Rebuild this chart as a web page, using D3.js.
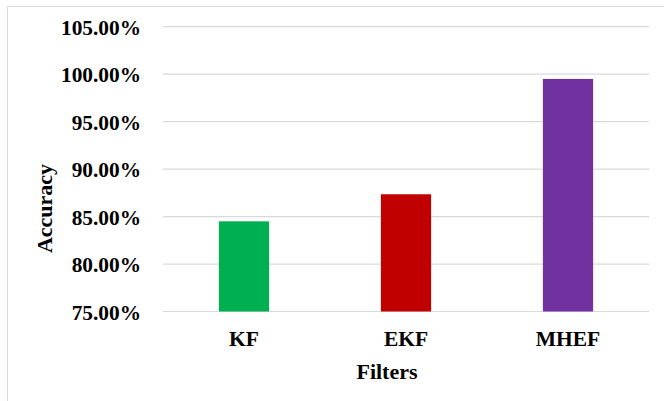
<!DOCTYPE html>
<html>
<head>
<meta charset="utf-8">
<script src="https://cdn.jsdelivr.net/npm/d3@7"></script>
<style>
  html, body { margin: 0; padding: 0; background: #fff; }
  svg { display: block; }
  svg text { font-family: 'Liberation Serif', 'Times New Roman', Times, 'DejaVu Serif', serif !important; font-weight: 700; fill: #000; }
</style>
</head>
<body>
<svg id="chart" width="664" height="401"></svg>
<script>
// Accuracy of each filter (percent)
const categories = ["KF", "EKF", "MHEF"];
const accuracy = [84.5, 87.35, 99.5];
const barColors = ["#00B050", "#C00000", "#7030A0"];
const yTicks = [75, 80, 85, 90, 95, 100, 105];

const serif = "'Liberation Serif', 'Times New Roman', Times, 'DejaVu Serif', serif";
const svg = d3.select("#chart");
const W = 664, H = 401;

// Chart frame (top and left edges)
svg.append("line").attr("x1", 7.5).attr("x2", W).attr("y1", 6.5).attr("y2", 6.5)
  .attr("stroke", "#d9d9d9").attr("stroke-width", 1);
svg.append("line").attr("x1", 7.5).attr("x2", 7.5).attr("y1", 6.5).attr("y2", H)
  .attr("stroke", "#d9d9d9").attr("stroke-width", 1);

const plot = { left: 163, right: 649, top: 26.7, bottom: 311.5 };

const x = d3.scaleBand().domain(categories).range([plot.left, plot.right]).paddingInner(0.69).paddingOuter(0.345);
const y = d3.scaleLinear().domain([75, 105]).range([plot.bottom, plot.top]);

// Horizontal gridlines
svg.append("g").selectAll("line").data(yTicks).join("line")
  .attr("x1", plot.left).attr("x2", plot.right)
  .attr("y1", d => y(d)).attr("y2", d => y(d))
  .attr("stroke", "#d9d9d9").attr("stroke-width", 1.2);

// Y axis labels
const yAxis = d3.axisLeft(y).tickValues(yTicks).tickSize(0).tickPadding(0)
  .tickFormat(d => d.toFixed(2) + "%");
const gy = svg.append("g").attr("transform", `translate(141,0)`).call(yAxis)
  .attr("font-family", null).attr("font-size", null);
gy.select(".domain").remove();
gy.selectAll("text").style("font-family", serif).style("font-size", "21.33px")
  .style("font-weight", "700").attr("fill", "#000").attr("dy", "0.36em");

// Bars
svg.append("g").selectAll("rect").data(categories).join("rect")
  .attr("x", d => x(d))
  .attr("y", (d, i) => y(accuracy[i]))
  .attr("width", x.bandwidth())
  .attr("height", (d, i) => y(75) - y(accuracy[i]))
  .attr("fill", (d, i) => barColors[i]);

// X axis labels
const xAxis = d3.axisBottom(x).tickSize(0).tickPadding(0);
const gx = svg.append("g").attr("transform", `translate(0,${plot.bottom})`).call(xAxis)
  .attr("font-family", null).attr("font-size", null);
gx.select(".domain").remove();
gx.selectAll("text").style("font-family", serif).style("font-size", "21.5px")
  .style("font-weight", "700").attr("fill", "#000").attr("dy", null).attr("y", 34);

// Axis titles
svg.append("text").attr("x", 387).attr("y", 378.5).attr("text-anchor", "middle")
  .style("font-family", serif).style("font-size", "22px").text("Filters");
svg.append("text").attr("transform", "translate(52,208.5) rotate(-90)").attr("text-anchor", "middle")
  .style("font-family", serif).style("font-size", "22px").text("Accuracy");
</script>
</body>
</html>
